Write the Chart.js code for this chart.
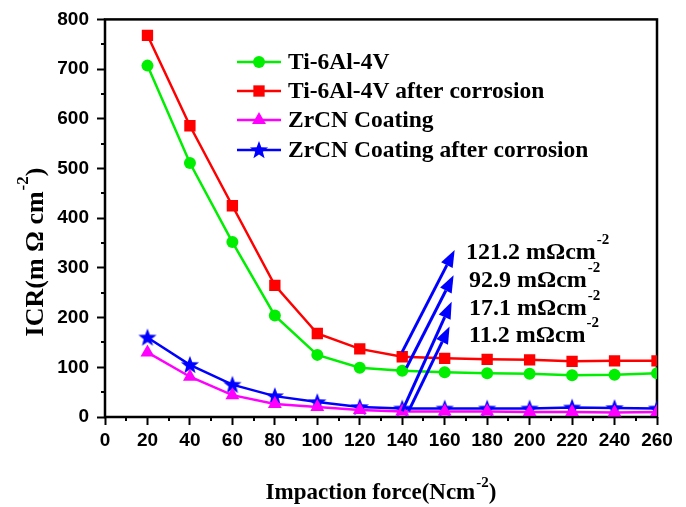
<!DOCTYPE html>
<html>
<head>
<meta charset="utf-8">
<script src="https://cdn.jsdelivr.net/npm/chart.js@4.4.1/dist/chart.umd.min.js"></script>
<style>
  html, body { margin: 0; padding: 0; background: #fff; }
  #wrap { width: 686px; height: 507px; }
</style>
</head>
<body>
<div id="wrap"><canvas id="icrChart" width="686" height="507"></canvas></div>
<script>
// impaction force (N cm^-2)
var forces = [20, 40, 60, 80, 100, 120, 140, 160, 180, 200, 220, 240, 260];

// ICR values (mOhm cm^-2)
var ti64 = [707, 511, 352, 204, 125, 99, 92.9, 90, 88, 87, 84, 85, 88];
var ti64Corroded = [768, 586, 425, 265, 168, 137, 121.2, 118, 116, 115, 112, 113, 113];
var zrcn = [130, 81, 44, 26, 20, 14, 11.2, 11, 11, 10, 10, 9, 10];
var zrcnCorroded = [160, 105, 65, 42, 30, 20, 17.1, 17, 17, 17, 19, 18, 17];

var seriesLabels = ['Ti-6Al-4V', 'Ti-6Al-4V after corrosion', 'ZrCN Coating', 'ZrCN Coating after corrosion'];

// values at 140 N cm^-2 pointed out on the chart
var noteLabels = ['121.2 m\u03A9cm', '92.9 m\u03A9cm', '17.1 m\u03A9cm', '11.2 m\u03A9cm'];
var noteTailX = [140, 142, 140, 143];
var noteTailY = [131, 99, 12, 12];
var noteHeadX = [164.7, 164.2, 163.3, 162.3];
var noteHeadY = [336, 285, 232, 182];

var xTicks = { min: 0, max: 260, step: 20 };
var yTicks = { min: 0, max: 800, step: 100 };

// filled five point star for the blue series
function makeStar(color) {
    var c = document.createElement('canvas');
    c.width = 20; c.height = 20;
    var g = c.getContext('2d');
    g.fillStyle = color;
    g.beginPath();
    for (var i = 0; i < 10; i++) {
        var r = i % 2 === 0 ? 9.5 : 4;
        var a = -Math.PI / 2 + i * Math.PI / 5;
        var px = 10 + r * Math.cos(a), py = 10.5 + r * Math.sin(a);
        if (i === 0) g.moveTo(px, py); else g.lineTo(px, py);
    }
    g.closePath();
    g.fill();
    return c;
}
var blueStar = makeStar('#0000ff');

function pairs(vals) {
    return forces.map(function (f, i) { return { x: f, y: vals[i] }; });
}

function series(label, vals, color, style, radius) {
    return {
        label: label,
        data: pairs(vals),
        borderColor: color,
        backgroundColor: color,
        borderWidth: 2.5,
        pointStyle: style,
        pointRadius: radius,
        pointHoverRadius: radius,
        pointBorderWidth: 0,
        tension: 0
    };
}

function serif(size) {
    return 'bold ' + size + 'px "Liberation Serif", "Times New Roman", serif';
}

// draws "text" + raised "-2" (+ optional closing text), starting at x
function supText(ctx, text, tail, x, y, size, supSize, rise) {
    ctx.font = serif(size);
    var w1 = ctx.measureText(text).width;
    ctx.fillText(text, x, y);
    ctx.font = serif(supSize);
    var w2 = ctx.measureText('-2').width;
    ctx.fillText('-2', x + w1 + 1, y - rise);
    if (tail) {
        ctx.font = serif(size);
        ctx.fillText(tail, x + w1 + w2 + 1, y);
    }
}

function supWidth(ctx, text, tail, size, supSize) {
    ctx.font = serif(size);
    var w = ctx.measureText(text).width + (tail ? ctx.measureText(tail).width : 0);
    ctx.font = serif(supSize);
    return w + ctx.measureText('-2').width + 1;
}

var framePlugin = {
    id: 'frame',
    beforeDatasetsDraw: function (chart) {
        var ctx = chart.ctx, a = chart.chartArea;
        var xs = chart.scales.x, ys = chart.scales.y;
        ctx.save();
        ctx.strokeStyle = '#000';
        ctx.lineWidth = 2.5;
        ctx.strokeRect(a.left, a.top, a.right - a.left, a.bottom - a.top);
        // minor ticks
        ctx.lineWidth = 2;
        ctx.beginPath();
        for (var v = xTicks.min + xTicks.step / 2; v < xTicks.max; v += xTicks.step) {
            var px = Math.round(xs.getPixelForValue(v));
            ctx.moveTo(px, a.bottom); ctx.lineTo(px, a.bottom + 4);
        }
        for (var w = yTicks.min + yTicks.step / 2; w < yTicks.max; w += yTicks.step) {
            var py = Math.round(ys.getPixelForValue(w));
            ctx.moveTo(a.left - 4, py); ctx.lineTo(a.left, py);
        }
        ctx.stroke();
        ctx.restore();
    },
    afterDraw: function (chart) {
        var ctx = chart.ctx, a = chart.chartArea;
        var xs = chart.scales.x, ys = chart.scales.y;
        ctx.save();
        ctx.fillStyle = '#000';
        ctx.textBaseline = 'middle';
        ctx.textAlign = 'left';

        // x axis title
        var tw = supWidth(ctx, 'Impaction force(Ncm', ')', 23, 15);
        supText(ctx, 'Impaction force(Ncm', ')', (a.left + a.right) / 2 - tw / 2, 493, 23, 15, 10);

        // y axis title
        ctx.save();
        ctx.translate(36, 252);
        ctx.rotate(-Math.PI / 2);
        var yw = supWidth(ctx, 'ICR(m \u03A9 cm', ')', 26, 17);
        supText(ctx, 'ICR(m \u03A9 cm', ')', -yw / 2, 0, 26, 17, 12);
        ctx.restore();

        // legend
        var rowsY = [62, 91, 120, 150];
        chart.data.datasets.forEach(function (ds, i) {
            var y = rowsY[i];
            ctx.strokeStyle = ds.borderColor;
            ctx.lineWidth = 2.5;
            ctx.beginPath();
            ctx.moveTo(237, y); ctx.lineTo(281, y);
            ctx.stroke();
            ctx.fillStyle = ds.backgroundColor;
            Chart.helpers.drawPoint(ctx, {
                pointStyle: ds.pointStyle, radius: ds.pointRadius, rotation: 0, borderWidth: 0
            }, 259, y);
            ctx.fillStyle = '#000';
            ctx.font = serif(23.5);
            ctx.fillText(ds.label, 288, y + 1);
        });

        // arrows to the values at 140
        ctx.strokeStyle = '#0000ff';
        ctx.fillStyle = '#0000ff';
        ctx.lineWidth = 3;
        for (var i = 0; i < noteLabels.length; i++) {
            var x0 = xs.getPixelForValue(noteTailX[i]), y0 = ys.getPixelForValue(noteTailY[i]);
            var x1 = xs.getPixelForValue(noteHeadX[i]), y1 = ys.getPixelForValue(noteHeadY[i]);
            var ang = Math.atan2(y1 - y0, x1 - x0);
            var hl = 17, hw = 6.5;
            var bx = x1 - hl * Math.cos(ang), by = y1 - hl * Math.sin(ang);
            ctx.beginPath();
            ctx.moveTo(x0, y0); ctx.lineTo(bx, by);
            ctx.stroke();
            ctx.beginPath();
            ctx.moveTo(x1, y1);
            ctx.lineTo(bx + hw * Math.sin(ang), by - hw * Math.cos(ang));
            ctx.lineTo(bx - hw * Math.sin(ang), by + hw * Math.cos(ang));
            ctx.closePath();
            ctx.fill();
        }

        // value labels
        var labelY = [253, 281, 309, 336];
        ctx.fillStyle = '#000';
        for (var k = 0; k < noteLabels.length; k++) {
            var lx = k === 0 ? 466 : 469;
            supText(ctx, noteLabels[k], '', lx, labelY[k], 24, 15, 13);
        }
        ctx.restore();
    }
};

var tickFont = { family: '"Liberation Sans", Arial, sans-serif', size: 19, weight: 'bold' };

var ctx = document.getElementById('icrChart');
new Chart(ctx, {
    type: 'line',
    data: {
        datasets: [
            series(seriesLabels[0], ti64, '#00ee00', 'circle', 6),
            series(seriesLabels[1], ti64Corroded, '#ff0000', 'rect', 8),
            series(seriesLabels[2], zrcn, '#ff00ff', 'triangle', 8),
            series(seriesLabels[3], zrcnCorroded, '#0000ff', blueStar, 10)
        ]
    },
    options: {
        responsive: false,
        animation: false,
        devicePixelRatio: 1,
        layout: { padding: { top: 15, right: 29, left: 0, bottom: 0 } },
        plugins: {
            legend: { display: false },
            tooltip: { enabled: false }
        },
        scales: {
            x: {
                type: 'linear',
                min: xTicks.min,
                max: xTicks.max,
                afterFit: function (scale) { scale.height = 90; },
                border: { display: false },
                grid: {
                    drawOnChartArea: false,
                    drawTicks: true,
                    tickLength: 8,
                    tickWidth: 2,
                    tickColor: '#000'
                },
                ticks: {
                    stepSize: xTicks.step,
                    maxRotation: 0,
                    padding: 4,
                    color: '#000',
                    font: tickFont
                }
            },
            y: {
                min: yTicks.min,
                max: yTicks.max,
                afterFit: function (scale) { scale.width = 105; },
                border: { display: false },
                grid: {
                    drawOnChartArea: false,
                    drawTicks: true,
                    tickLength: 8,
                    tickWidth: 2,
                    tickColor: '#000'
                },
                ticks: {
                    stepSize: yTicks.step,
                    padding: 8,
                    color: '#000',
                    font: tickFont
                }
            }
        }
    },
    plugins: [framePlugin]
});
</script>
</body>
</html>
